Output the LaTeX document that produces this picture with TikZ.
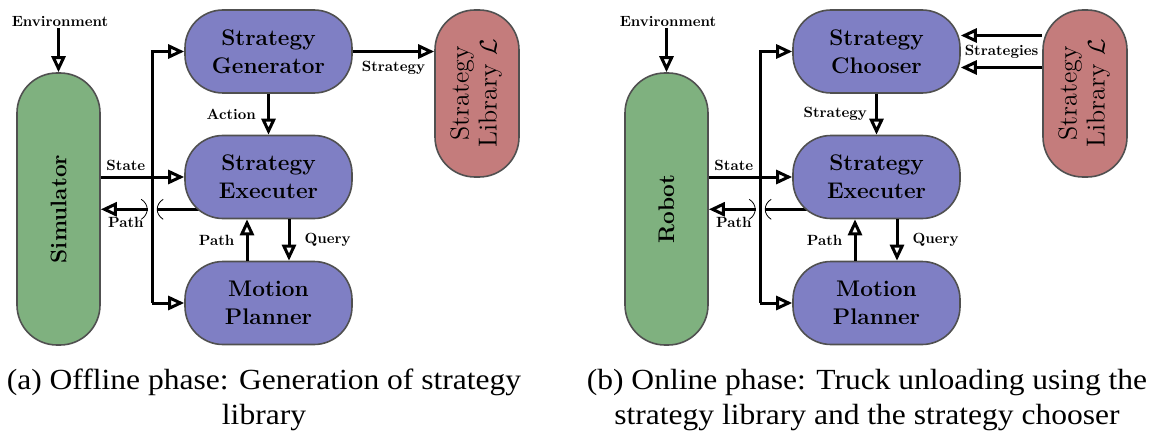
\documentclass[tikz,border=0pt]{standalone}
\usepackage{fontspec}
\usepackage{amsmath}
\usetikzlibrary{arrows.meta,positioning,calc,backgrounds}
\newfontfamily\capfont[FakeStretch=1.08]{Liberation Serif}
\definecolor{blockblue}{HTML}{7F7FC4}
\definecolor{blockgreen}{HTML}{7FB17F}
\definecolor{blockred}{HTML}{C47C7C}
\definecolor{rim}{HTML}{505050}

\begin{document}
\begin{tikzpicture}[x=0.5pt,y=-0.5pt,>={Triangle[open,length=8pt,width=7pt]},
  blk/.style={draw=rim,line width=0.8pt,rounded corners=19pt,inner sep=0pt,align=center,
    font=\fontsize{11.3}{14}\selectfont\bfseries},
  proc/.style={blk,fill=blockblue,minimum width=83.5pt,minimum height=41.5pt},
  agent/.style={blk,fill=blockgreen,minimum width=41.5pt,minimum height=136pt,rounded corners=20pt},
  libbox/.style={blk,fill=blockred,minimum width=42pt,minimum height=83.5pt,rounded corners=20pt,
    font=\fontsize{13}{14}\selectfont},
  flow/.style={->,line width=1.5pt},
  lbl/.style={font=\fontsize{10}{12}\selectfont\bfseries,inner sep=1pt,scale=0.74,transform shape},
  hopline/.style={line width=0.4pt},
  captxt/.style={font=\capfont\fontsize{14.6}{17.5}\selectfont,align=center}]
\useasboundingbox (0,0) rectangle (1161,433);

% (a) offline phase
\node[agent] (sim) at (58.5,209) {\rotatebox{90}{Simulator}};
\node[proc] (gen) at (268.5,51.5) {Strategy\\Generator};
\node[proc] (exe) at (268.5,177) {Strategy\\Executer};
\node[proc] (mp) at (268.5,303) {Motion\\Planner};
\node[libbox] (lib) at (477,93.5) {\rotatebox{90}{\begin{tabular}{@{}c@{}}Strategy\\Library $\mathcal{L}$\end{tabular}}};
\node[lbl] (env) at (60,21) {Environment};
\coordinate (bus) at ($(mp.west)+(-32,0)$);
\coordinate (hop) at ($(bus |- exe.south)+(0,-10)$);

\draw[flow] (sim.north |- env.south) -- (sim.north);
\draw[flow] (bus) |- (gen.west);
\draw[flow] (bus) -- (mp.west);
\draw[flow] (sim.east |- exe.west) -- (exe.west) node[lbl,above=2pt,pos=0.3]{State};
\begin{scope}[on background layer]
\draw[line width=1.5pt] ([xshift=10pt]exe.west |- hop) -- ([xshift=2.5pt]hop);
\end{scope}
\draw[flow] ([xshift=-2pt]hop) -- (sim.east |- hop) node[lbl,below=2.5pt,pos=0.47]{Path};
\draw[hopline] ($(hop)+(-11,-10)$) .. controls ($(hop)+(-3,-5)$) and ($(hop)+(-3,5)$) .. ($(hop)+(-11,10)$);
\draw[hopline] ($(hop)+(11,-10)$) .. controls ($(hop)+(3,-5)$) and ($(hop)+(3,5)$) .. ($(hop)+(11,10)$);
\draw[flow] (gen) -- (exe) node[lbl,left=5pt,midway]{Action};
\draw[flow] (gen.east) -- (gen.east -| lib.west) node[lbl,below=3.5pt,midway]{Strategy};
\draw[flow] ([xshift=-10.75pt]mp.north) -- ([xshift=-10.75pt]exe.south) node[lbl,left=5pt,midway]{Path};
\draw[flow] ([xshift=10.25pt]exe.south) -- ([xshift=10.25pt]mp.north) node[lbl,right=6.5pt,midway]{Query};
\node[captxt] (capA) at (264,400) {(a) Offline phase: Generation of strategy\\library};

% (b) online phase
\node[agent] (robot) at (666.5,209) {\rotatebox{90}{Robot}};
\node[proc] (cho) at (876.5,51.5) {Strategy\\Chooser};
\node[proc] (exe2) at (876.5,177) {Strategy\\Executer};
\node[proc] (mp2) at (876.5,303) {Motion\\Planner};
\node[libbox] (lib2) at (1085,93.5) {\rotatebox{90}{\begin{tabular}{@{}c@{}}Strategy\\Library $\mathcal{L}$\end{tabular}}};
\node[lbl] (env2) at (668,21) {Environment};
\coordinate (bus2) at ($(mp2.west)+(-32,0)$);
\coordinate (hop2) at ($(bus2 |- exe2.south)+(0,-10)$);

\draw[flow] (robot.north |- env2.south) -- (robot.north);
\draw[flow] (bus2) |- (cho.west);
\draw[flow] (bus2) -- (mp2.west);
\draw[flow] (robot.east |- exe2.west) -- (exe2.west) node[lbl,above=2pt,pos=0.3]{State};
\begin{scope}[on background layer]
\draw[line width=1.5pt] ([xshift=10pt]exe2.west |- hop2) -- ([xshift=2.5pt]hop2);
\end{scope}
\draw[flow] ([xshift=-2pt]hop2) -- (robot.east |- hop2) node[lbl,below=2.5pt,pos=0.47]{Path};
\draw[hopline] ($(hop2)+(-11,-10)$) .. controls ($(hop2)+(-3,-5)$) and ($(hop2)+(-3,5)$) .. ($(hop2)+(-11,10)$);
\draw[hopline] ($(hop2)+(11,-10)$) .. controls ($(hop2)+(3,-5)$) and ($(hop2)+(3,5)$) .. ($(hop2)+(11,10)$);
\draw[flow] (cho) -- (exe2) node[lbl,left=3.5pt,midway]{Strategy};
\draw[flow] ([yshift=8pt]cho.east -| lib2.west) -- ([yshift=8pt]cho.east);
\draw[flow] ([yshift=-8pt]cho.east -| lib2.west) -- ([yshift=-8pt]cho.east);
\node[lbl] (strats) at ($(cho.east)!0.5!(cho.east -| lib2.west)$) {Strategies};
\draw[flow] ([xshift=-10.75pt]mp2.north) -- ([xshift=-10.75pt]exe2.south) node[lbl,left=5pt,midway]{Path};
\draw[flow] ([xshift=10.25pt]exe2.south) -- ([xshift=10.25pt]mp2.north) node[lbl,right=6.5pt,midway]{Query};
\node[captxt] (capB) at (867,400) {(b) Online phase: Truck unloading using the\\strategy library and the strategy chooser};
\end{tikzpicture}
\end{document}
